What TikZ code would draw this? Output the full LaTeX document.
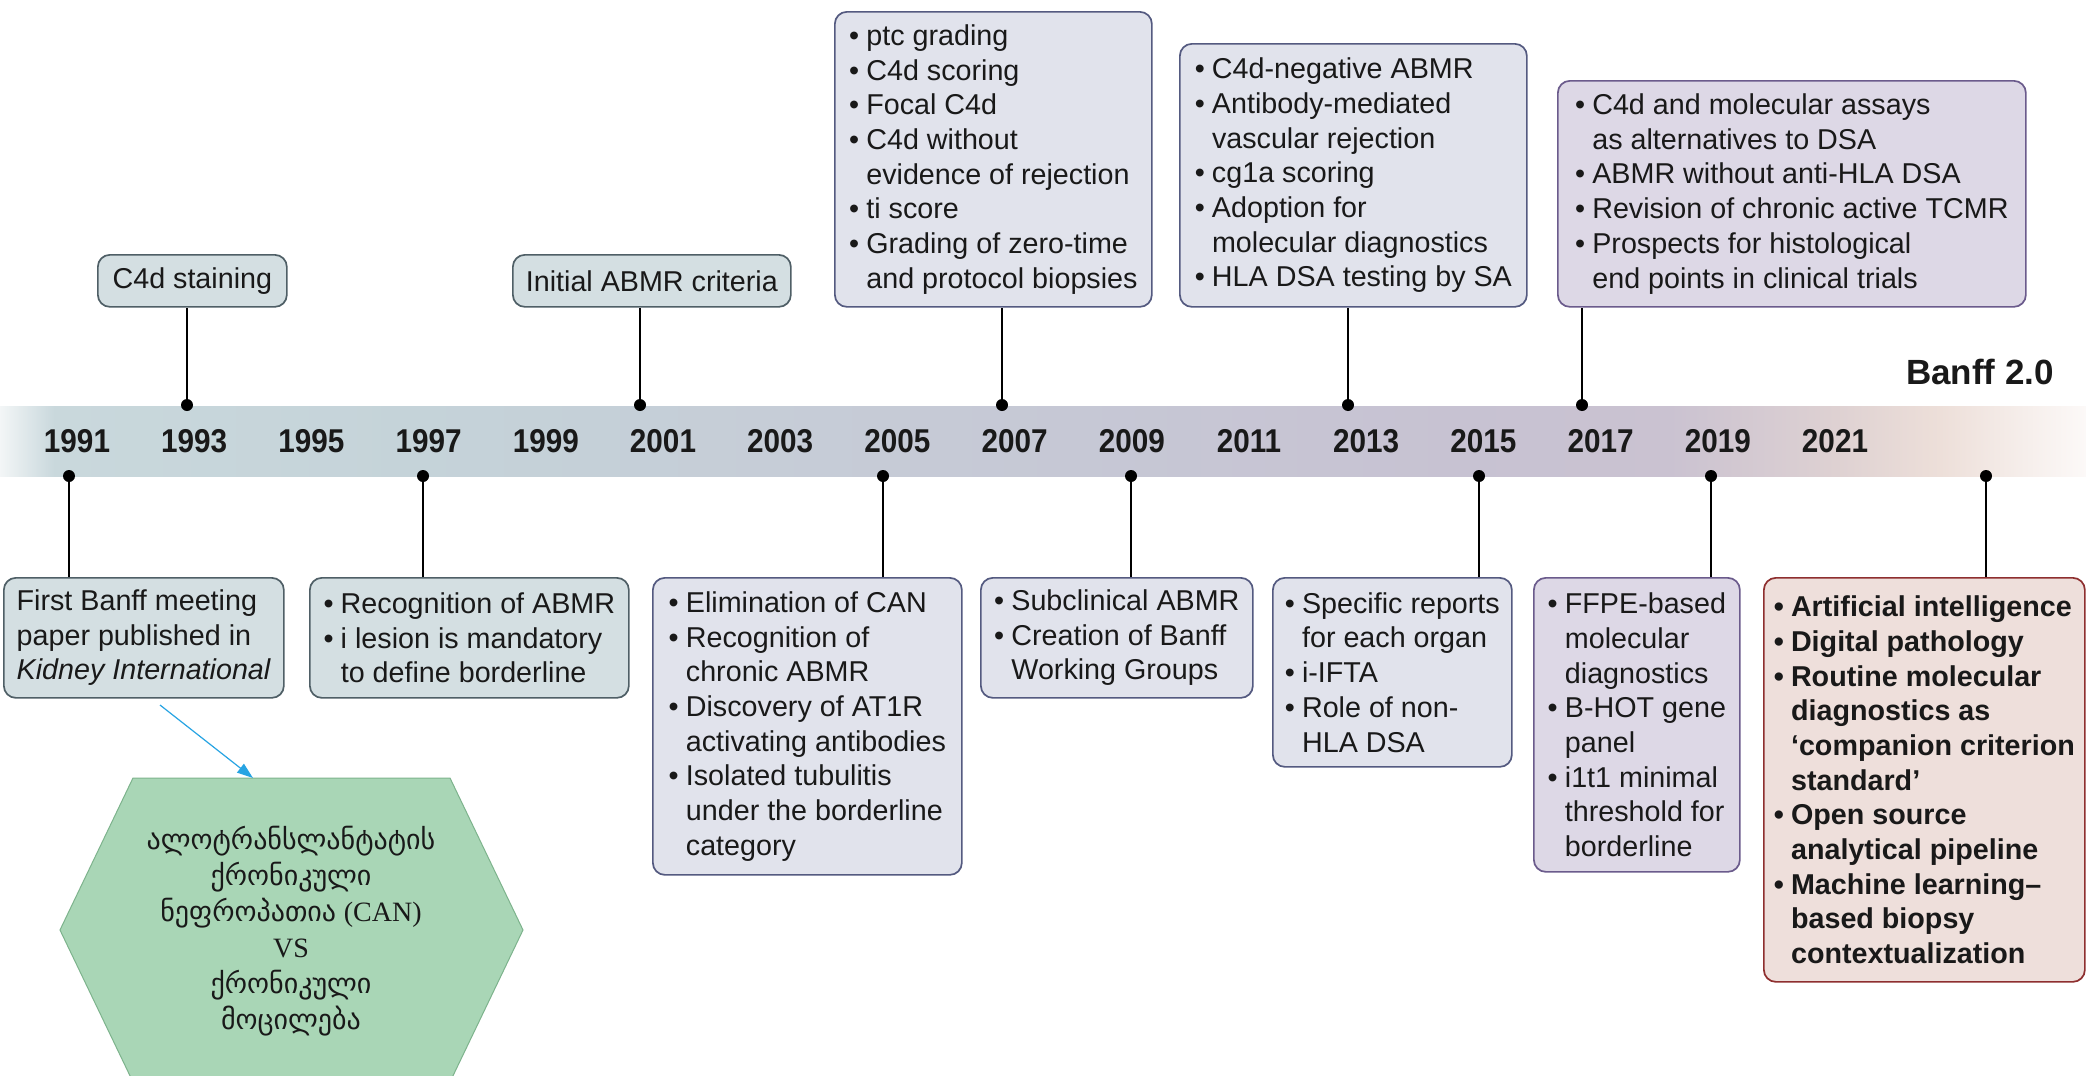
\documentclass[tikz,border=0pt]{standalone}
\usepackage{fontspec}
\setmainfont{Liberation Sans}
\newfontfamily\yearfont[FakeStretch=0.9]{Liberation Sans}
\newfontfamily\geofont{DejaVu Sans}
\newfontfamily\latinserif{Liberation Serif}
\usetikzlibrary{arrows.meta}

% palette
\definecolor{bandEdgeL}{HTML}{F3F6F7}
\definecolor{bandA}{HTML}{C9D8DC}
\definecolor{bandB}{HTML}{C5D3D9}
\definecolor{bandC}{HTML}{C6CAD6}
\definecolor{bandD}{HTML}{C7C2D2}
\definecolor{bandE}{HTML}{CAC2D1}
\definecolor{bandF}{HTML}{DED1D2}
\definecolor{bandG}{HTML}{EDDFD9}
\definecolor{bandEdgeR}{HTML}{FCF9F8}
\definecolor{earlyFill}{HTML}{D4DFE2}
\definecolor{earlyLine}{HTML}{4F5F66}
\definecolor{midFill}{HTML}{E1E3EC}
\definecolor{midLine}{HTML}{545A80}
\definecolor{lateFill}{HTML}{DDD8E6}
\definecolor{lateLine}{HTML}{6B5B8C}
\definecolor{futFill}{HTML}{EEDFDB}
\definecolor{futLine}{HTML}{8E2F2F}
\definecolor{hexFill}{HTML}{A9D6B6}
\definecolor{hexLine}{HTML}{7DB38C}
\definecolor{linkBlue}{HTML}{27A4E3}

% timeline band: pale blue-grey -> lavender -> blush, fading out at both ends
\pgfdeclarehorizontalshading{bandshade}{100bp}{%
  color(0bp)=(bandEdgeL); color(25bp)=(bandEdgeL); color(26.3bp)=(bandA);
  color(35bp)=(bandB); color(47.5bp)=(bandC); color(60bp)=(bandD);
  color(65bp)=(bandE); color(69bp)=(bandF); color(71.5bp)=(bandG);
  color(75bp)=(bandEdgeR); color(100bp)=(bandEdgeR)}

\newcommand\bodysize{\fontsize{28.7}{34.7}\selectfont}
\newcommand\bu{\makebox[0.6em][l]{•}}
\newcommand\ind{\hspace*{0.6em}}

\begin{document}
\begin{tikzpicture}[x=1pt, y=-1pt,
  card/.style={draw, rounded corners=12pt, line width=1.7pt, align=left,
    anchor=north west, inner sep=0pt, font=\bodysize, text=black!90},
  early/.style={fill=earlyFill, draw=earlyLine},
  mid/.style={fill=midFill, draw=midLine},
  late/.style={fill=lateFill, draw=lateLine},
  future/.style={fill=futFill, draw=futLine},
  yearlbl/.style={font=\yearfont\fontsize{33}{35}\selectfont\bfseries, text=black!90, inner sep=0pt},
  dot/.style={circle, fill=black, inner sep=0pt, minimum size=12pt},
  conn/.style={line width=1.8pt, black},
  link/.style={line width=1.2pt, linkBlue, -{Triangle[length=16pt, width=11pt]}},
  hexagon/.style={fill=hexFill, draw=hexLine, line width=1pt}]

\useasboundingbox (0,0) rectangle (2086,1076);
\clip (0,0) rectangle (2086,1076);
\fill[white] (0,0) rectangle (2086,1076);

% band and year labels
\shade[shading=bandshade] (0,406) rectangle (2086,476);
\foreach \yr [count=\i from 0] in {1991,1993,...,2021}
  \node[yearlbl] (y\yr) at ({77+117.2*\i},441) {\yr};
\node[font=\fontsize{35}{38}\selectfont\bfseries, text=black!90, inner sep=0pt] (banff) at (1980,372) {Banff 2.0};

% milestones above the band
\node[card, early, minimum width=189pt, minimum height=52pt] (b1993) at (97,254) {C4d staining};
\node[card, early, minimum width=278pt, minimum height=52pt] (b2001) at (512,254) {Initial ABMR criteria};
\node[card, mid, minimum width=317pt, minimum height=295pt] (b2007) at (834,11) {%
  \bu ptc grading\\
  \bu C4d scoring\\
  \bu Focal C4d\\
  \bu C4d without\\
  \ind evidence of rejection\\
  \bu ti score\\
  \bu Grading of zero-time\\
  \ind and protocol biopsies};
\node[card, mid, minimum width=347pt, minimum height=263pt] (b2013) at (1179,43) {%
  \bu C4d-negative ABMR\\
  \bu Antibody-mediated\\
  \ind vascular rejection\\
  \bu cg1a scoring\\
  \bu Adoption for\\
  \ind molecular diagnostics\\
  \bu HLA DSA testing by SA};
\node[card, late, minimum width=468pt, minimum height=226pt] (b2017) at (1557,80) {%
  \bu C4d and molecular assays\\
  \ind as alternatives to DSA\\
  \bu ABMR without anti-HLA DSA\\
  \bu Revision of chronic active TCMR\\
  \bu Prospects for histological\\
  \ind end points in clinical trials};

% milestones below the band
\node[card, early, minimum width=280pt, minimum height=120pt] (b1991) at (3,577) {%
  First Banff meeting\\
  paper published in\\
  \textit{Kidney International}};
\node[card, early, minimum width=319pt, minimum height=120pt] (b1997) at (309,577) {%
  \bu Recognition of ABMR\\
  \bu i lesion is mandatory\\
  \ind to define borderline};
\node[card, mid, minimum width=309pt, minimum height=297pt] (b2005) at (652,577) {%
  \bu Elimination of CAN\\
  \bu Recognition of\\
  \ind chronic ABMR\\
  \bu Discovery of AT1R\\
  \ind activating antibodies\\
  \bu Isolated tubulitis\\
  \ind under the borderline\\
  \ind category};
\node[card, mid, minimum width=272pt, minimum height=120pt] (b2009) at (980,577) {%
  \bu Subclinical ABMR\\
  \bu Creation of Banff\\
  \ind Working Groups};
\node[card, mid, minimum width=239pt, minimum height=189pt] (b2015) at (1272,577) {%
  \bu Specific reports\\
  \ind for each organ\\
  \bu i-IFTA\\
  \bu Role of non-\\
  \ind HLA DSA};
\node[card, late, minimum width=206pt, minimum height=294pt] (b2019) at (1533,577) {%
  \bu FFPE-based\\
  \ind molecular\\
  \ind diagnostics\\
  \bu B-HOT gene\\
  \ind panel\\
  \bu i1t1 minimal\\
  \ind threshold for\\
  \ind borderline};
\node[card, future, minimum width=321pt, minimum height=404pt, font=\bodysize\bfseries] (bnext) at (1763,577) {%
  \bu Artificial intelligence\\
  \bu Digital pathology\\
  \bu Routine molecular\\
  \ind diagnostics as\\
  \ind ‘companion criterion\\
  \ind standard’\\
  \bu Open source\\
  \ind analytical pipeline\\
  \bu Machine learning–\\
  \ind based biopsy\\
  \ind contextualization};

% anchor dots on the band
\foreach \nm/\px in {1993/187, 2001/640, 2007/1002, 2013/1348, 2017/1582}
  \node[dot] (t\nm) at (\px,405) {};
\foreach \nm/\px in {1991/69, 1997/423, 2005/883, 2009/1131, 2015/1479, 2019/1711, next/1986}
  \node[dot] (d\nm) at (\px,476) {};

% stems from the band to each card
\foreach \nm in {1993,2001,2007,2013,2017}
  \draw[conn] (t\nm.center) -- (t\nm.center |- b\nm.south);
\foreach \nm in {1991,1997,2005,2009,2015,2019,next}
  \draw[conn] (d\nm.center) -- (d\nm.center |- b\nm.north);

% hexagon note, running off the lower edge
\draw[hexagon] (60,930) -- (133,778) -- (450,778) -- (523,930) -- (450,1082) -- (133,1082) -- cycle;
\node[align=center, inner sep=0pt, font=\fontsize{28}{36}\selectfont, text=black!90] (hex) at (291,931) {%
  {\geofont ალოტრანსლანტატის}\\
  {\geofont ქრონიკული}\\
  {\geofont ნეფროპათია} {\latinserif (CAN)}\\
  {\latinserif VS}\\
  {\geofont ქრონიკული}\\
  {\geofont მოცილება}};
\coordinate (linkS) at (160,705);
\coordinate (linkE) at (253,778);
\draw[link] (linkS) -- (linkE);
\end{tikzpicture}
\end{document}
